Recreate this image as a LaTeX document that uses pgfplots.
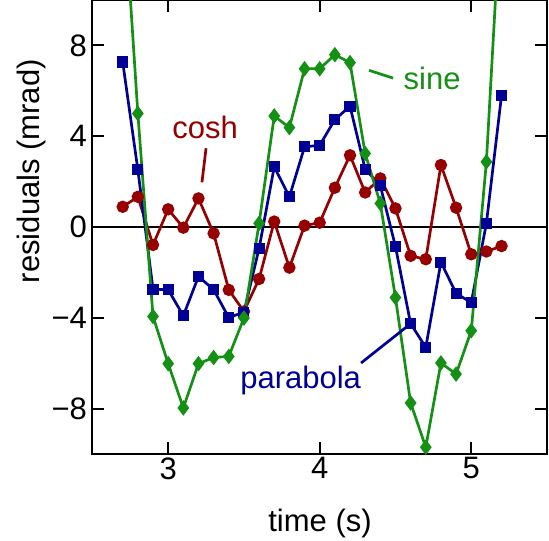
\documentclass[border=0pt]{standalone}
\usepackage{fontspec}
\setmainfont{Liberation Sans}
\usepackage{pgfplots}
\pgfplotsset{compat=1.18}
\definecolor{cred}{RGB}{150,0,0}
\definecolor{cblue}{RGB}{0,0,150}
\definecolor{cgreen}{RGB}{20,145,20}
\begin{document}
\begin{tikzpicture}[font=\fontsize{31pt}{37pt}\selectfont]
\begin{axis}[name=ax, scale only axis, width=454.6pt, height=454pt,
  xmin=2.5, xmax=5.5, ymin=-10, ymax=10,
  xtick={3,4,5}, xticklabels={3,4,5},
  ytick={-8,-4,0,4,8}, yticklabels={−8,−4,0,4,8},
  tick align=inside, major tick length=12pt,
  axis line style={line width=2pt},
  tick style={line width=2pt, black},
  yticklabel style={xshift=-2pt},
  xlabel={time (s)}, ylabel={residuals (mrad)},
  xlabel style={at={(axis description cs:0.5007,-0.1696)}, anchor=base},
  ylabel style={at={(axis description cs:-0.134,0.623)}, anchor=center},
  every axis plot/.append style={line width=2.7pt},
]
\addplot[black, line width=2pt] coordinates {(2.5,0) (5.5,0)};
\addplot[cred, mark=*, mark size=4.8pt] coordinates {
(2.7,0.89) (2.8,1.33) (2.9,-0.79) (3.0,0.78) (3.1,-0.03) (3.2,1.26) (3.3,-0.28) (3.4,-2.77) (3.5,-3.72) (3.6,-2.29) (3.7,0.24) (3.8,-1.79) (3.9,0.06) (4.0,0.19) (4.1,1.73) (4.2,3.16) (4.3,1.52) (4.4,2.14) (4.5,0.82) (4.6,-1.27) (4.7,-1.42) (4.8,2.73) (4.9,0.85) (5.0,-1.20) (5.1,-1.08) (5.2,-0.84)};
\addplot[cblue, mark=square*, mark size=4.2pt] coordinates {
(2.7,7.27) (2.8,2.52) (2.9,-2.74) (3.0,-2.76) (3.1,-3.91) (3.2,-2.18) (3.3,-2.76) (3.4,-3.99) (3.5,-3.75) (3.6,-0.94) (3.7,2.65) (3.8,1.33) (3.9,3.53) (4.0,3.60) (4.1,4.73) (4.2,5.32) (4.3,2.55) (4.4,1.82) (4.5,-0.86) (4.6,-4.26) (4.7,-5.30) (4.8,-1.55) (4.9,-2.92) (5.0,-3.33) (5.1,0.16) (5.2,5.80)};
\addplot[cgreen, mark=diamond*, mark size=5.6pt] coordinates {
(2.7,15.2) (2.8,5.0) (2.9,-3.94) (3.0,-6.02) (3.1,-7.97) (3.2,-6.02) (3.3,-5.75) (3.4,-5.70) (3.5,-4.01) (3.6,0.16) (3.7,4.89) (3.8,4.38) (3.9,6.97) (4.0,6.97) (4.1,7.59) (4.2,7.24) (4.3,3.24) (4.4,1.04) (4.5,-3.11) (4.6,-7.75) (4.7,-9.70) (4.8,-5.99) (4.9,-6.48) (5.0,-4.57) (5.1,2.87) (5.2,14.8)};
\addplot[cred, line width=2.7pt] coordinates {(3.25,3.47) (3.223,1.97)};
\addplot[cgreen, line width=2.7pt] coordinates {(4.326,6.90) (4.484,6.56)};
\addplot[cblue, line width=2.7pt] coordinates {(4.273,-5.99) (4.596,-4.28)};
\node[cred, anchor=base] at (axis cs:3.244,3.91) {cosh};
\node[cgreen, anchor=base] at (axis cs:4.742,6.05) {sine};
\node[cblue, anchor=base] at (axis cs:3.874,-7.12) {parabola};
\end{axis}
\pgfresetboundingbox
\path[use as bounding box] ([xshift=-92.4pt,yshift=-86pt]ax.south west) rectangle ([xshift=2pt]ax.north east);
\end{tikzpicture}
\end{document}
